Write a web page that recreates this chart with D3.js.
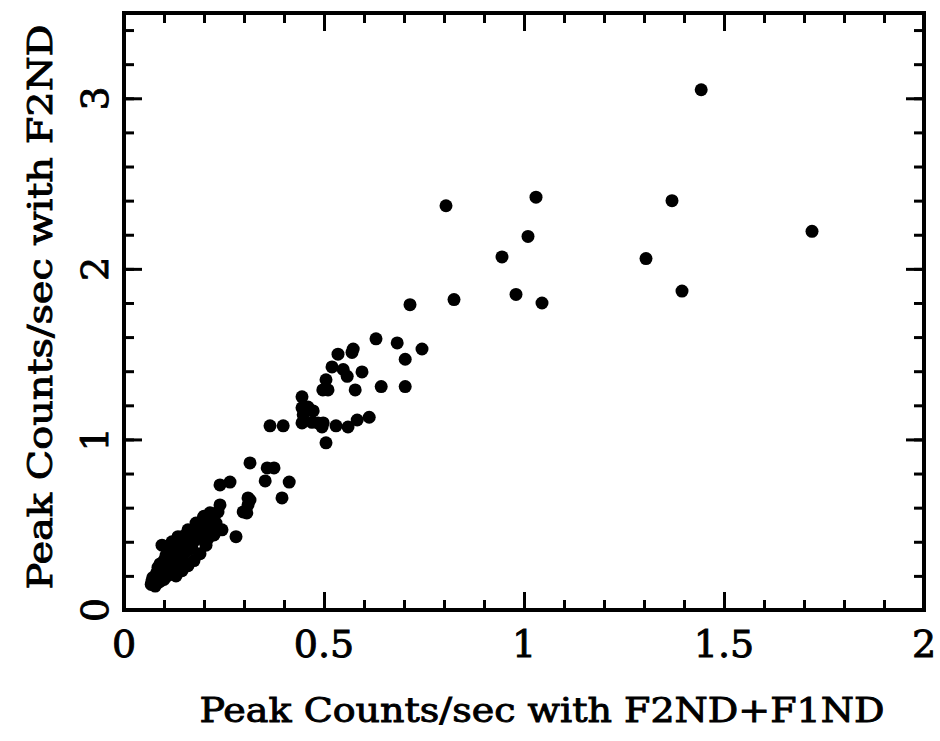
<!DOCTYPE html>
<html>
<head>
<meta charset="utf-8">
<script src="https://cdn.jsdelivr.net/npm/d3@7"></script>
<style>
  body { margin: 0; background: #fff; }
  text { font-family: "DejaVu Serif", serif; fill: #000; stroke: #000; stroke-width: 0.9px; }
</style>
</head>
<body>
<svg id="chart" width="940" height="741"></svg>
<script>
// data: peak counts/sec, F2ND+F1ND (x) vs F2ND (y)
var xVals = [
  1.443, 1.72, 1.03, 1.37, 0.805, 1.01, 0.945, 1.305, 0.98, 1.045, 1.395, 0.825, 0.715,
  0.63, 0.683, 0.745, 0.703, 0.573, 0.57, 0.535, 0.52, 0.548, 0.558, 0.595, 0.505, 0.497, 0.51,
  0.578, 0.643, 0.703, 0.445, 0.445, 0.46, 0.473, 0.448, 0.445, 0.47, 0.485, 0.498, 0.495, 0.53,
  0.56, 0.583, 0.613, 0.365, 0.398, 0.505, 0.315, 0.358, 0.375, 0.353, 0.413, 0.395, 0.315,
  0.24, 0.265, 0.31, 0.31, 0.298, 0.307, 0.24, 0.235, 0.22, 0.245, 0.198, 0.145, 0.28,
  0.068, 0.07, 0.072, 0.075, 0.078, 0.08, 0.08, 0.082, 0.085, 0.085, 0.088, 0.09, 0.09, 0.092,
  0.095, 0.095, 0.097, 0.1, 0.1, 0.1, 0.103, 0.105, 0.105, 0.108, 0.11, 0.11, 0.112, 0.115,
  0.115, 0.118, 0.12, 0.12, 0.122, 0.125, 0.125, 0.128, 0.13, 0.13, 0.133, 0.135, 0.135, 0.138,
  0.14, 0.14, 0.143, 0.145, 0.148, 0.15, 0.15, 0.155, 0.155, 0.158, 0.16, 0.163, 0.165, 0.168,
  0.17, 0.172, 0.175, 0.178, 0.18, 0.185, 0.19, 0.19, 0.195, 0.2, 0.2, 0.205, 0.21, 0.215,
  0.22, 0.225, 0.23,
  0.13, 0.145, 0.16, 0.175, 0.19, 0.205, 0.21, 0.225,
  0.12, 0.135, 0.16, 0.18, 0.2, 0.215
];
var yVals = [
  3.05, 2.22, 2.42, 2.40, 2.37, 2.19, 2.07, 2.06, 1.85, 1.80, 1.87, 1.82, 1.79,
  1.59, 1.566, 1.53, 1.47, 1.53, 1.51, 1.50, 1.425, 1.41, 1.37, 1.396, 1.35, 1.29, 1.29,
  1.29, 1.31, 1.31, 1.25, 1.185, 1.19, 1.167, 1.144, 1.097, 1.10, 1.097, 1.097, 1.073, 1.08,
  1.073, 1.114, 1.13, 1.08, 1.08, 0.98, 0.862, 0.833, 0.833, 0.757, 0.75, 0.657, 0.645,
  0.733, 0.75, 0.657, 0.616, 0.575, 0.569, 0.616, 0.575, 0.48, 0.47, 0.54, 0.43, 0.43,
  0.15, 0.17, 0.19, 0.16, 0.14, 0.2, 0.18, 0.22, 0.16, 0.25, 0.19, 0.21, 0.27, 0.17,
  0.23, 0.38, 0.2, 0.25, 0.29, 0.18, 0.22, 0.27, 0.32, 0.2, 0.24, 0.3, 0.35, 0.22,
  0.27, 0.32, 0.25, 0.29, 0.36, 0.23, 0.31, 0.27, 0.34, 0.38, 0.29, 0.25, 0.32, 0.37,
  0.28, 0.42, 0.33, 0.3, 0.36, 0.4, 0.33, 0.38, 0.44, 0.35, 0.41, 0.37, 0.45, 0.4,
  0.36, 0.43, 0.47, 0.41, 0.44, 0.48, 0.43, 0.5, 0.46, 0.52, 0.45, 0.49, 0.55, 0.5,
  0.53, 0.48, 0.51,
  0.2, 0.23, 0.26, 0.29, 0.33, 0.38, 0.42, 0.44,
  0.4, 0.43, 0.47, 0.51, 0.55, 0.57
];
var xTickLabels = [0, 0.5, 1, 1.5, 2];
var yTickLabels = [0, 1, 2, 3];
var xLabel = "Peak Counts/sec with F2ND+F1ND";
var yLabel = "Peak Counts/sec with F2ND";

var margin = { top: 13, right: 16, bottom: 131, left: 124 };
var width = 940 - margin.left - margin.right;
var height = 741 - margin.top - margin.bottom;

var svg = d3.select("#chart")
  .append("g")
  .attr("transform", "translate(" + margin.left + "," + margin.top + ")");

var xScale = d3.scaleLinear().domain([0, 2]).range([0, width]);
var yScale = d3.scaleLinear().domain([0, 3.5]).range([height, 0]);

var xMinor = d3.range(0, 21).map(function(i) { return i / 10; });
var yMinor = d3.range(0, 18).map(function(i) { return i / 5; });
var xMajor = xTickLabels;
var yMajor = yTickLabels;

// inward ticks on all four sides
function tickAxis(axisFn, scale, vals, len, tr) {
  var g = svg.append("g")
    .attr("transform", tr)
    .call(axisFn(scale).tickValues(vals).tickSize(-len).tickFormat(""));
  g.select(".domain").remove();
  g.selectAll(".tick line").attr("stroke", "#000").attr("stroke-width", 3);
}
tickAxis(d3.axisBottom, xScale, xMinor, 10, "translate(0," + height + ")");
tickAxis(d3.axisBottom, xScale, xMajor, 18, "translate(0," + height + ")");
tickAxis(d3.axisTop, xScale, xMinor, 10, "translate(0,0)");
tickAxis(d3.axisTop, xScale, xMajor, 18, "translate(0,0)");
tickAxis(d3.axisLeft, yScale, yMinor, 10, "translate(0,0)");
tickAxis(d3.axisLeft, yScale, yMajor, 18, "translate(0,0)");
tickAxis(d3.axisRight, yScale, yMinor, 10, "translate(" + width + ",0)");
tickAxis(d3.axisRight, yScale, yMajor, 18, "translate(" + width + ",0)");

// frame
svg.append("rect")
  .attr("width", width)
  .attr("height", height)
  .attr("fill", "none")
  .attr("stroke", "#000")
  .attr("stroke-width", 4);

// tick labels
svg.selectAll(".xlab")
  .data(xTickLabels)
  .enter().append("text")
  .attr("class", "xlab")
  .attr("x", function(d) { return xScale(d); })
  .attr("y", height + 47)
  .attr("text-anchor", "middle")
  .style("font-size", "38px")
  .text(function(d) { return d; });

svg.selectAll(".ylab")
  .data(yTickLabels)
  .enter().append("text")
  .attr("class", "ylab")
  .attr("transform", function(d) { return "translate(-16," + yScale(d) + ") rotate(-90)"; })
  .attr("text-anchor", "middle")
  .style("font-size", "38px")
  .text(function(d) { return d; });

// axis titles
svg.append("text")
  .attr("x", 418)
  .attr("y", height + 112)
  .attr("text-anchor", "middle")
  .attr("textLength", 685)
  .attr("lengthAdjust", "spacingAndGlyphs")
  .style("font-size", "33px")
  .text(xLabel);

svg.append("text")
  .attr("transform", "translate(-72," + 294 + ") rotate(-90)")
  .attr("text-anchor", "middle")
  .attr("textLength", 565)
  .attr("lengthAdjust", "spacingAndGlyphs")
  .style("font-size", "33px")
  .text(yLabel);

// points
svg.selectAll(".dot")
  .data(d3.zip(xVals, yVals))
  .enter().append("circle")
  .attr("class", "dot")
  .attr("cx", function(d) { return xScale(d[0]); })
  .attr("cy", function(d) { return yScale(d[1]); })
  .attr("r", 6.5)
  .attr("fill", "#000");
</script>
</body>
</html>
